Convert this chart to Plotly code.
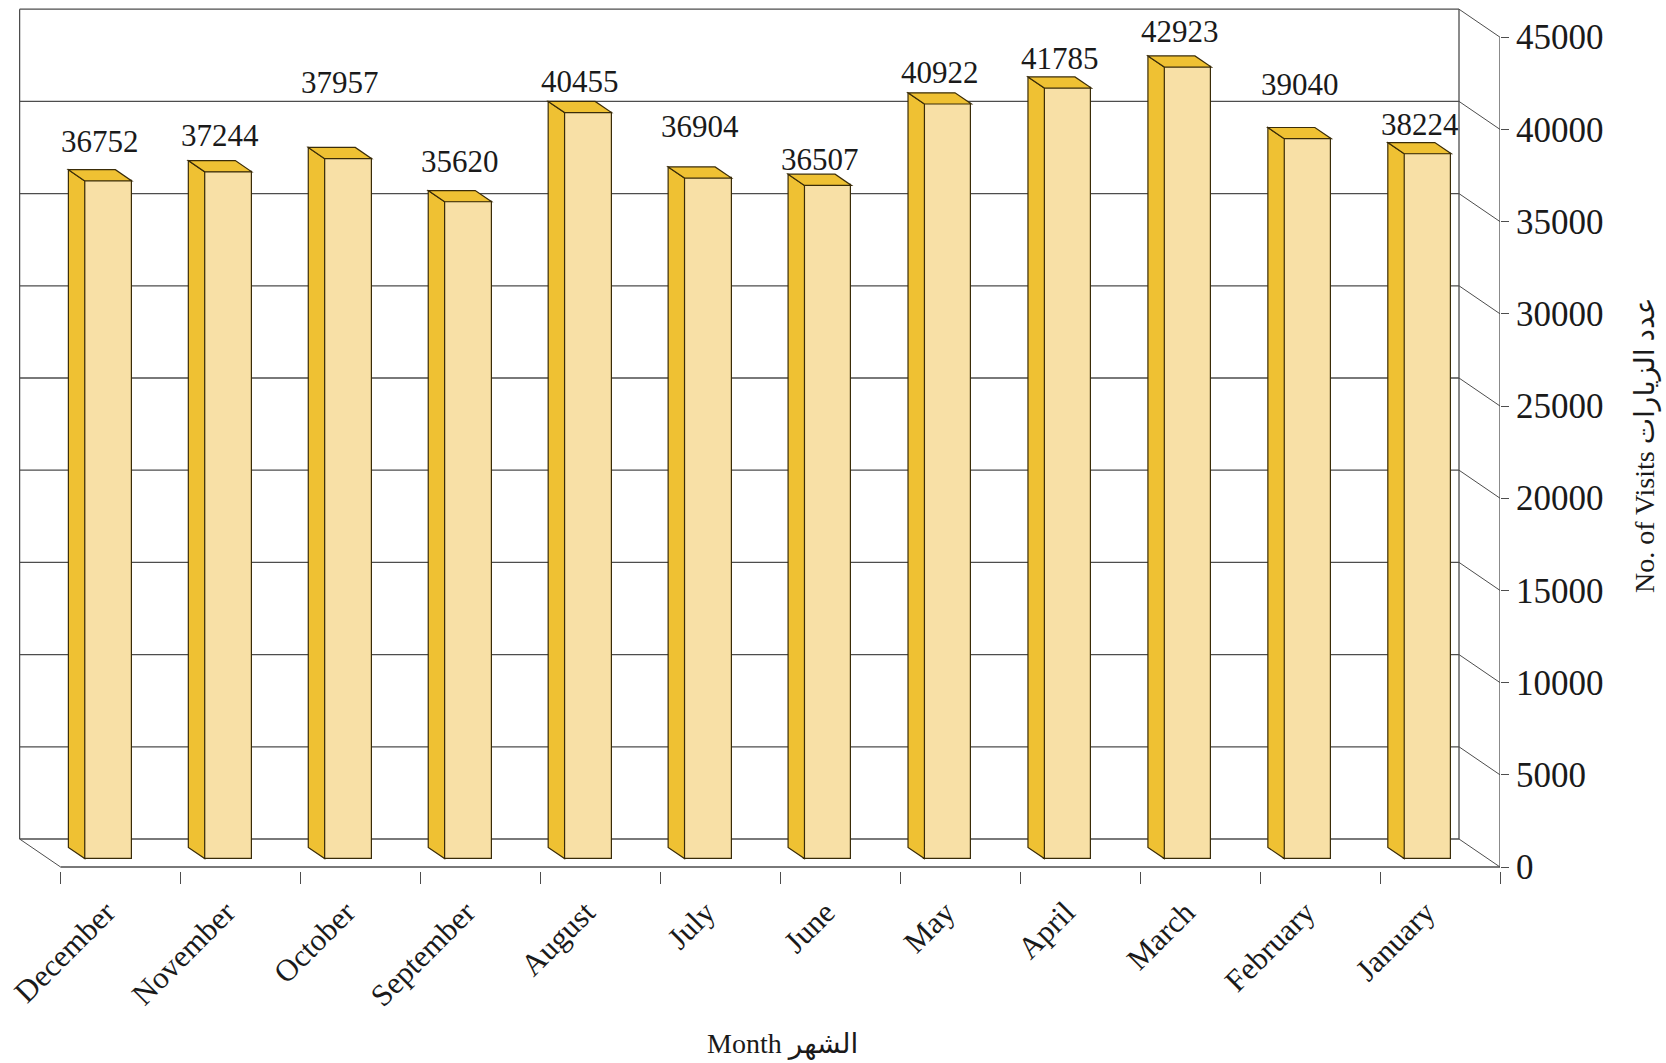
import plotly.graph_objects as go

# ---------------- data ----------------
months = ["December", "November", "October", "September", "August", "July",
          "June", "May", "April", "March", "February", "January"]
visits = [36752, 37244, 37957, 35620, 40455, 36904, 36507, 40922, 41785, 42923, 39040, 38224]
y_ticks = [0, 5000, 10000, 15000, 20000, 25000, 30000, 35000, 40000, 45000]
x_title = "Month الشهر"
y_title = "No. of Visits عدد الزيارات"

# ---------------- geometry / style ----------------
W, H = 1666, 1063
PX_LEFT, PX_RIGHT = 19, 1500          # plot area (pixels)
PX_TOP, PX_ZERO, PX_BOTTOM = 6, 867, 871
PX_FRONT_LEFT = 60.6
UNITS_PER_PX = 45000 / 829.8
PX_PER_CAT = (PX_RIGHT - PX_FRONT_LEFT) / 12

x_min = -0.5 - (PX_FRONT_LEFT - PX_LEFT) / PX_PER_CAT
x_max = 11.5
y_min = -(PX_BOTTOM - PX_ZERO) * UNITS_PER_PX
y_max = (PX_ZERO - PX_TOP) * UNITS_PER_PX

DX = -41 / PX_PER_CAT                 # depth offset of the back wall (x, category units)
DY = 28 * UNITS_PER_PX                # depth offset of the back wall (y, value units)
F_FRONT = 0.30                        # bar front face depth fraction
F_DEPTH = 0.40                        # bar depth fraction
BAR_W = 47 / PX_PER_CAT

FONT = "Liberation Serif, Times New Roman, DejaVu Sans, serif"
FRONT_COL = "#F8E0A6"
SIDE_COL = "#EFC133"
EDGE_COL = "#3A2C08"
GRID_COL = "#4d4d4d"

# label gaps above each bar (pixels)
label_gap = [39, 36, 76, 40, 31, 52, 26, 32, 30, 36, 54, 29]

fig = go.Figure()

x_front = [i + F_FRONT * DX for i in range(len(months))]
base = F_FRONT * DY
fig.add_trace(go.Bar(
    x=x_front, y=visits, base=base, width=BAR_W,
    marker=dict(color=FRONT_COL, line=dict(color=EDGE_COL, width=1.2)),
    hoverinfo="skip", showlegend=False,
))

shapes = []
xb_l, xb_r = -0.5 + DX, 11.5 + DX
line_style = dict(color=GRID_COL, width=1.3)
# back wall gridlines
for v in y_ticks:
    shapes.append(dict(type="line", xref="x", yref="y", x0=xb_l, x1=xb_r, y0=v + DY, y1=v + DY,
                       line=line_style, layer="below"))
    shapes.append(dict(type="line", xref="x", yref="y", x0=xb_r, x1=11.5, y0=v + DY, y1=v,
                       line=dict(color=GRID_COL, width=1), layer="below"))
# back wall edges
for xx in (xb_l, xb_r):
    shapes.append(dict(type="line", xref="x", yref="y", x0=xx, x1=xx, y0=DY, y1=y_ticks[-1] + DY,
                       line=line_style, layer="below"))
# floor
shapes.append(dict(type="line", xref="x", yref="y", x0=-0.5, x1=xb_l, y0=0, y1=DY,
                   line=dict(color=GRID_COL, width=1), layer="below"))
shapes.append(dict(type="line", xref="x", yref="y", x0=-0.5, x1=11.5, y0=0, y1=0,
                   line=dict(color=GRID_COL, width=1.3), layer="below"))
# front value axis line
shapes.append(dict(type="line", xref="x", yref="y", x0=11.5, x1=11.5, y0=0, y1=y_ticks[-1],
                   line=dict(color=GRID_COL, width=1.3), layer="below"))

# 3D side and top faces of each bar
ddx, ddy = F_DEPTH * DX, F_DEPTH * DY
for xc, v in zip(x_front, visits):
    xl, xr = xc - BAR_W / 2, xc + BAR_W / 2
    top = base + v
    side = f"M {xl},{base} L {xl},{top} L {xl + ddx},{top + ddy} L {xl + ddx},{base + ddy} Z"
    topf = f"M {xl},{top} L {xr},{top} L {xr + ddx},{top + ddy} L {xl + ddx},{top + ddy} Z"
    for p in (side, topf):
        shapes.append(dict(type="path", xref="x", yref="y", path=p, fillcolor=SIDE_COL,
                           line=dict(color=EDGE_COL, width=1.2), layer="above"))

annotations = []
for xc, v, g in zip(x_front, visits, label_gap):
    annotations.append(dict(x=xc + ddx / 2, y=base + v, xref="x", yref="y", text=str(v),
                            showarrow=False, yshift=g, xanchor="center", yanchor="middle",
                            font=dict(family=FONT, size=31, color="#1a1a1a")))

def px_to_paper_x(px):
    return (px - PX_LEFT) / (PX_RIGHT - PX_LEFT)

def px_to_paper_y(py):
    return (PX_BOTTOM - py) / (PX_BOTTOM - PX_TOP)

annotations.append(dict(x=px_to_paper_x(783), y=px_to_paper_y(1044), xref="paper", yref="paper",
                        text=x_title, showarrow=False, xanchor="center", yanchor="middle",
                        font=dict(family=FONT, size=28, color="#1a1a1a")))
annotations.append(dict(x=px_to_paper_x(1645), y=px_to_paper_y(446), xref="paper", yref="paper",
                        text=y_title, showarrow=False, textangle=-90, xanchor="center", yanchor="middle",
                        font=dict(family=FONT, size=28, color="#1a1a1a")))

fig.update_layout(
    width=W, height=H, autosize=False,
    margin=dict(l=PX_LEFT, r=W - PX_RIGHT, t=PX_TOP, b=H - PX_BOTTOM, pad=0),
    paper_bgcolor="white", plot_bgcolor="white",
    shapes=shapes, annotations=annotations,
    bargap=0,
    xaxis=dict(range=[x_min, x_max], tickmode="array",
               tickvals=[i - 0.12 for i in range(len(months))], ticktext=months,
               tickangle=-45, ticks="", showgrid=False, zeroline=False, showline=False,
               ticklabelstandoff=16,
               tickfont=dict(family=FONT, size=31, color="#1a1a1a"),
               minor=dict(tickmode="array", tickvals=[i - 0.5 for i in range(len(months) + 1)],
                          ticks="outside", ticklen=12, tickcolor=GRID_COL, tickwidth=1.3,
                          showgrid=False),
               fixedrange=True),
    yaxis=dict(range=[y_min, y_max], side="right", tickmode="array", tickvals=y_ticks,
               ticktext=[str(t) for t in y_ticks], ticks="outside", ticklen=8,
               tickcolor=GRID_COL, tickwidth=1.3, showgrid=False, zeroline=False, showline=False,
               tickfont=dict(family=FONT, size=35, color="#1a1a1a"), fixedrange=True),
)

fig.write_html("out.html", post_script="document.body.style.margin='0';",
               config={"displayModeBar": False})
